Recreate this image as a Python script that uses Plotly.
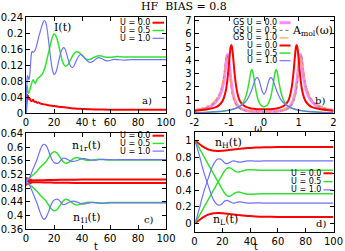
import plotly.graph_objects as go

W, H = 345, 251

# ---------------- panel a : current I(t) ----------------
t_a_red = [0, 0.5, 1, 1.5, 2, 2.5, 3, 4, 5, 6, 7, 8, 9, 10, 12, 15, 20, 25, 30, 35, 40, 45, 50, 60, 70, 80, 90, 100]
I_red = [0, 0.03, 0.046, 0.042, 0.036, 0.038, 0.034, 0.03, 0.034, 0.029, 0.029, 0.026, 0.027, 0.025, 0.023, 0.021,
         0.018, 0.016, 0.014, 0.012, 0.011, 0.01, 0.0095, 0.009, 0.009, 0.009, 0.009, 0.009]

t_a_g = [0, 0.5, 1, 1.5, 2, 3, 4, 5, 6, 6.5, 7, 8, 10, 12, 14, 16, 18, 19, 20, 21, 22, 24, 26, 28, 30, 32, 34, 36,
         38, 40, 42, 44, 46, 48, 50, 52, 54, 56, 60, 65, 70, 80, 90, 100]
I_g = [0, 0.07, 0.062, 0.052, 0.05, 0.062, 0.075, 0.084, 0.078, 0.075, 0.077, 0.085, 0.092, 0.1, 0.12, 0.15, 0.18,
       0.192, 0.198, 0.196, 0.188, 0.16, 0.13, 0.118, 0.122, 0.135, 0.148, 0.154, 0.152, 0.145, 0.138, 0.134, 0.135,
       0.139, 0.142, 0.144, 0.143, 0.141, 0.14, 0.142, 0.141, 0.141, 0.141, 0.141]

t_a_b = [0, 0.5, 1, 1.5, 2, 2.5, 3, 3.5, 4, 4.5, 5, 6, 7, 8, 9, 10, 11, 12, 13, 14, 15, 16, 17, 18, 19, 20, 21, 22,
         23, 24, 25, 26, 27, 28, 29, 30, 31, 32, 33, 34, 35, 36, 37, 38, 39, 40, 42, 44, 46, 48, 50, 52, 54, 56, 58,
         60, 63, 66, 70, 75, 80, 90, 100]
I_b = [0, 0.06, 0.095, 0.09, 0.084, 0.09, 0.11, 0.135, 0.152, 0.155, 0.153, 0.155, 0.162, 0.175, 0.19, 0.202, 0.215,
       0.226, 0.232, 0.228, 0.212, 0.185, 0.155, 0.127, 0.106, 0.097, 0.1, 0.11, 0.125, 0.14, 0.153, 0.161, 0.164,
       0.16, 0.149, 0.136, 0.125, 0.117, 0.114, 0.117, 0.124, 0.132, 0.139, 0.144, 0.147, 0.146, 0.138, 0.13, 0.127,
       0.13, 0.136, 0.139, 0.137, 0.133, 0.131, 0.132, 0.135, 0.134, 0.133, 0.134, 0.134, 0.134, 0.134]

# ---------------- panel b : spectral functions ----------------
w_red = [-2.0, -1.8, -1.6, -1.4, -1.3, -1.2, -1.15, -1.1, -1.06, -1.02, -0.99, -0.96, -0.94, -0.92, -0.89, -0.86,
         -0.82, -0.78, -0.74, -0.7, -0.6, -0.5, -0.4, -0.3, -0.2, -0.1, 0.0, 0.1, 0.2, 0.3, 0.4, 0.5, 0.6, 0.7, 0.74,
         0.78, 0.82, 0.86, 0.89, 0.92, 0.94, 0.96, 0.99, 1.02, 1.06, 1.1, 1.15, 1.2, 1.3, 1.4, 1.6, 1.8, 2.0]
A_red = [0.2, 0.25, 0.32, 0.45, 0.6, 0.9, 1.2, 1.7, 2.4, 3.4, 4.3, 5.0, 5.15, 5.0, 4.3, 3.4, 2.4, 1.7, 1.25, 0.95,
         0.62, 0.46, 0.38, 0.34, 0.31, 0.3, 0.3, 0.3, 0.31, 0.34, 0.38, 0.46, 0.62, 0.95, 1.25, 1.7, 2.4, 3.4, 4.3,
         5.0, 5.15, 5.0, 4.3, 3.4, 2.4, 1.7, 1.2, 0.9, 0.6, 0.45, 0.32, 0.25, 0.2]

w_g = [-2.0, -1.6, -1.3, -1.1, -0.9, -0.75, -0.65, -0.58, -0.52, -0.47, -0.43, -0.4, -0.37, -0.35, -0.33, -0.3, -0.27,
       -0.23, -0.19, -0.15, -0.1, -0.05, 0.0, 0.05, 0.1, 0.15, 0.19, 0.23, 0.27, 0.3, 0.33, 0.35, 0.37, 0.4, 0.43,
       0.47, 0.52, 0.58, 0.65, 0.75, 0.9, 1.1, 1.3, 1.6, 2.0]
A_g = [0.05, 0.08, 0.13, 0.19, 0.3, 0.45, 0.65, 0.9, 1.3, 1.8, 2.35, 2.85, 3.2, 3.3, 3.2, 2.85, 2.3, 1.7, 1.2, 0.88,
       0.65, 0.54, 0.5, 0.54, 0.65, 0.88, 1.2, 1.7, 2.3, 2.85, 3.2, 3.3, 3.2, 2.85, 2.35, 1.8, 1.3, 0.9, 0.65, 0.45,
       0.3, 0.19, 0.13, 0.08, 0.05]

w_b = [-2.0, -1.6, -1.3, -1.1, -0.9, -0.75, -0.6, -0.5, -0.42, -0.35, -0.3, -0.25, -0.21, -0.19, -0.17, -0.13, -0.09,
       -0.05, 0.0, 0.05, 0.09, 0.13, 0.17, 0.19, 0.21, 0.25, 0.3, 0.35, 0.42, 0.5, 0.6, 0.75, 0.9, 1.1, 1.3, 1.6, 2.0]
A_b = [0.05, 0.08, 0.13, 0.19, 0.3, 0.45, 0.7, 0.98, 1.35, 1.8, 2.2, 2.55, 2.68, 2.7, 2.66, 2.4, 2.0, 1.65, 1.45,
       1.65, 2.0, 2.4, 2.66, 2.7, 2.68, 2.55, 2.2, 1.8, 1.35, 0.98, 0.7, 0.45, 0.3, 0.19, 0.13, 0.08, 0.05]

w_gs0 = [-2.0, -1.8, -1.6, -1.45, -1.32, -1.22, -1.16, -1.12, -1.09, -1.07, -1.05, -1.03, -1.01, -0.98, -0.94, -0.9,
         -0.85, -0.78, -0.7, -0.6, -0.45, -0.3, -0.15, 0.0, 0.15, 0.3, 0.45, 0.6, 0.7, 0.78, 0.85, 0.9, 0.94, 0.98,
         1.01, 1.03, 1.05, 1.07, 1.09, 1.12, 1.16, 1.22, 1.32, 1.45, 1.6, 1.8, 2.0]
A_gs0 = [0.22, 0.3, 0.45, 0.7, 1.1, 1.7, 2.4, 3.1, 3.8, 4.25, 4.45, 4.3, 3.9, 3.2, 2.3, 1.6, 1.05, 0.65, 0.42, 0.28,
         0.18, 0.13, 0.11, 0.1, 0.11, 0.13, 0.18, 0.28, 0.42, 0.65, 1.05, 1.6, 2.3, 3.2, 3.9, 4.3, 4.45, 4.25, 3.8,
         3.1, 2.4, 1.7, 1.1, 0.7, 0.45, 0.3, 0.22]

w_gs5 = [-2.0, -1.8, -1.6, -1.45, -1.34, -1.24, -1.18, -1.14, -1.11, -1.09, -1.07, -1.05, -1.03, -1.0, -0.96, -0.92,
         -0.87, -0.8, -0.72, -0.62, -0.47, -0.3, -0.15, 0.0, 0.15, 0.3, 0.47, 0.62, 0.72, 0.8, 0.87, 0.92, 0.96, 1.0,
         1.03, 1.05, 1.07, 1.09, 1.11, 1.14, 1.18, 1.24, 1.34, 1.45, 1.6, 1.8, 2.0]
A_gs5 = [0.24, 0.33, 0.5, 0.75, 1.15, 1.75, 2.45, 3.15, 3.8, 4.2, 4.4, 4.25, 3.85, 3.15, 2.3, 1.6, 1.05, 0.65, 0.42,
         0.28, 0.18, 0.13, 0.11, 0.1, 0.11, 0.13, 0.18, 0.28, 0.42, 0.65, 1.05, 1.6, 2.3, 3.15, 3.85, 4.25, 4.4, 4.2,
         3.8, 3.15, 2.45, 1.75, 1.15, 0.75, 0.5, 0.33, 0.24]

w_gs10 = [-2.0, -1.8, -1.6, -1.5, -1.4, -1.3, -1.22, -1.16, -1.12, -1.09, -1.07, -1.05, -1.02, -0.98, -0.94, -0.88,
          -0.8, -0.7, -0.6, -0.45, -0.3, -0.15, 0.0, 0.15, 0.3, 0.45, 0.6, 0.7, 0.8, 0.88, 0.94, 0.98, 1.02, 1.05,
          1.07, 1.09, 1.12, 1.16, 1.22, 1.3, 1.4, 1.5, 1.6, 1.8, 2.0]
A_gs10 = [0.25, 0.38, 0.58, 0.75, 1.0, 1.4, 2.0, 2.8, 3.5, 4.0, 4.2, 4.1, 3.6, 2.8, 2.0, 1.3, 0.8, 0.48, 0.3, 0.2,
          0.14, 0.12, 0.11, 0.12, 0.14, 0.2, 0.3, 0.48, 0.8, 1.3, 2.0, 2.8, 3.6, 4.1, 4.2, 4.0, 3.5, 2.8, 2.0, 1.4,
          1.0, 0.75, 0.58, 0.38, 0.25]

# ---------------- panel c : n_1r(t), n_1l(t) ----------------
t_c_r = [0, 0.5, 1, 1.5, 2, 2.5, 3, 3.5, 4, 5, 6, 8, 10, 15, 20, 30, 40, 60, 80, 100]
n1r_r = [0.5, 0.51, 0.496, 0.508, 0.498, 0.506, 0.5, 0.505, 0.502, 0.503, 0.5025, 0.503, 0.503, 0.5035, 0.504,
         0.5045, 0.505, 0.505, 0.505, 0.505]
n1l_r = [0.5, 0.49, 0.504, 0.492, 0.502, 0.494, 0.5, 0.495, 0.498, 0.497, 0.4975, 0.497, 0.497, 0.4965, 0.496,
         0.4955, 0.495, 0.495, 0.495, 0.495]

t_c_g = [0, 2, 4, 6, 8, 10, 12, 14, 16, 18, 20, 22, 24, 26, 28, 30, 32, 34, 36, 38, 40, 44, 48, 52, 56, 60, 70, 80,
         90, 100]
n1r_g = [0.5, 0.508, 0.515, 0.522, 0.53, 0.54, 0.548, 0.556, 0.568, 0.58, 0.586, 0.583, 0.572, 0.56, 0.553, 0.554,
         0.56, 0.566, 0.569, 0.568, 0.565, 0.561, 0.562, 0.564, 0.563, 0.562, 0.562, 0.562, 0.562, 0.562]
n1l_g = [0.5, 0.492, 0.485, 0.478, 0.47, 0.46, 0.452, 0.444, 0.432, 0.42, 0.414, 0.417, 0.428, 0.44, 0.447, 0.446,
         0.44, 0.434, 0.431, 0.432, 0.435, 0.439, 0.438, 0.436, 0.437, 0.438, 0.438, 0.438, 0.438, 0.438]

t_c_b = [0, 1, 2, 3, 4, 5, 6, 7, 8, 9, 10, 11, 12, 13, 14, 15, 16, 17, 18, 19, 20, 21, 22, 23, 24, 25, 26, 27, 28,
         30, 32, 34, 36, 38, 40, 42, 44, 46, 50, 55, 60, 70, 80, 90, 100]
n1r_b = [0.5, 0.51, 0.505, 0.515, 0.525, 0.535, 0.545, 0.555, 0.565, 0.578, 0.59, 0.6, 0.606, 0.608, 0.606, 0.6,
         0.59, 0.578, 0.568, 0.56, 0.555, 0.553, 0.552, 0.553, 0.557, 0.562, 0.566, 0.568, 0.567, 0.563, 0.559,
         0.558, 0.56, 0.563, 0.566, 0.566, 0.564, 0.562, 0.562, 0.564, 0.563, 0.563, 0.563, 0.563, 0.563]
n1l_b = [0.5, 0.49, 0.495, 0.485, 0.475, 0.465, 0.455, 0.445, 0.435, 0.422, 0.41, 0.4, 0.392, 0.389, 0.392, 0.4,
         0.41, 0.422, 0.432, 0.44, 0.445, 0.447, 0.448, 0.447, 0.443, 0.438, 0.434, 0.432, 0.433, 0.437, 0.441,
         0.442, 0.44, 0.437, 0.434, 0.434, 0.436, 0.438, 0.438, 0.436, 0.437, 0.437, 0.437, 0.437, 0.437]

# ---------------- panel d : n_H(t), n_L(t) ----------------
t_d = [0, 1, 2, 3, 4, 5, 6, 7, 8, 9, 10, 11, 12, 13, 14, 15, 16, 17, 18, 19, 20, 21, 22, 23, 24, 25, 26, 27, 28, 29,
       30, 32, 34, 36, 38, 40, 44, 50, 60, 70, 80, 90, 100]
nH_r = [1.0, 0.99, 0.978, 0.965, 0.952, 0.94, 0.928, 0.918, 0.908, 0.9, 0.893, 0.888, 0.884, 0.88, 0.878, 0.876,
        0.875, 0.875, 0.875, 0.876, 0.877, 0.878, 0.88, 0.882, 0.884, 0.886, 0.888, 0.89, 0.892, 0.894, 0.896, 0.9,
        0.903, 0.906, 0.909, 0.911, 0.915, 0.919, 0.922, 0.923, 0.923, 0.923, 0.923]
nL_r = [0.0, 0.01, 0.022, 0.035, 0.048, 0.06, 0.072, 0.082, 0.092, 0.1, 0.107, 0.112, 0.116, 0.12, 0.122, 0.124,
        0.125, 0.125, 0.125, 0.124, 0.123, 0.122, 0.12, 0.118, 0.116, 0.114, 0.112, 0.11, 0.108, 0.106, 0.104, 0.1,
        0.097, 0.094, 0.091, 0.089, 0.085, 0.081, 0.078, 0.077, 0.077, 0.077, 0.077]
nH_g = [1.0, 0.975, 0.948, 0.92, 0.89, 0.86, 0.83, 0.8, 0.77, 0.74, 0.71, 0.68, 0.65, 0.62, 0.59, 0.56, 0.53, 0.5,
        0.47, 0.44, 0.41, 0.382, 0.358, 0.34, 0.33, 0.328, 0.333, 0.343, 0.356, 0.367, 0.375, 0.378, 0.37, 0.36,
        0.353, 0.351, 0.355, 0.358, 0.357, 0.357, 0.357, 0.357, 0.357]
nL_g = [0.0, 0.025, 0.052, 0.08, 0.11, 0.14, 0.17, 0.2, 0.23, 0.26, 0.29, 0.32, 0.35, 0.38, 0.41, 0.44, 0.47, 0.5,
        0.53, 0.56, 0.59, 0.618, 0.642, 0.66, 0.67, 0.672, 0.667, 0.657, 0.644, 0.633, 0.625, 0.622, 0.63, 0.64,
        0.647, 0.649, 0.645, 0.642, 0.643, 0.643, 0.643, 0.643, 0.643]
nH_b = [1.0, 0.96, 0.91, 0.85, 0.79, 0.72, 0.66, 0.6, 0.55, 0.5, 0.45, 0.4, 0.35, 0.31, 0.275, 0.25, 0.232, 0.222,
        0.22, 0.226, 0.24, 0.258, 0.272, 0.278, 0.276, 0.268, 0.258, 0.25, 0.246, 0.247, 0.252, 0.26, 0.258, 0.25,
        0.245, 0.244, 0.248, 0.246, 0.245, 0.245, 0.245, 0.245, 0.245]
nL_b = [0.0, 0.04, 0.09, 0.15, 0.21, 0.28, 0.34, 0.4, 0.45, 0.5, 0.55, 0.6, 0.65, 0.69, 0.725, 0.75, 0.768, 0.778,
        0.78, 0.774, 0.76, 0.742, 0.728, 0.722, 0.724, 0.732, 0.742, 0.75, 0.754, 0.753, 0.748, 0.74, 0.742, 0.75,
        0.755, 0.756, 0.752, 0.754, 0.755, 0.755, 0.755, 0.755, 0.755]

# tick labels
ticks_a_y = [0, 0.04, 0.08, 0.12, 0.16, 0.2, 0.24]
ticks_a_y_txt = ["0", "0.04", "0.08", "0.12", "0.16", "0.2", "0.24"]
ticks_t = [0, 20, 40, 60, 80, 100]
ticks_t_txt = ["0", "20", "40", "60", "80", "100"]
ticks_b_x = [-2, -1, 0, 1, 2]
ticks_b_x_txt = ["-2", "-1", "0", "1", "2"]
ticks_b_y = [0, 1, 2, 3, 4, 5, 6, 7]
ticks_b_y_txt = ["0", "1", "2", "3", "4", "5", "6", "7"]
ticks_c_y = [0.36, 0.4, 0.44, 0.48, 0.52, 0.56, 0.6, 0.64]
ticks_c_y_txt = ["0.36", "0.4", "0.44", "0.48", "0.52", "0.56", "0.6", "0.64"]
ticks_d_y = [0, 0.2, 0.4, 0.6, 0.8, 1]
ticks_d_y_txt = ["0", "0.2", "0.4", "0.6", "0.8", "1"]

legend_U = ["U = 0.0", "U = 0.5", "U = 1.0"]
legend_GS = ["GS U = 0.0", "GS U = 0.5", "GS U = 1.0"]

RED = "#ff0000"
GREEN = "#33e033"
BLUE = "#7070ff"
MAG = "#ff88ff"
GRAY = "#8a8a8a"
ORANGE = "#ffa060"

fig = go.Figure()


def add(x, y, color, width, xa, ya, dash="solid", shape="spline"):
    fig.add_trace(go.Scatter(x=x, y=y, mode="lines",
                             line=dict(color=color, width=width, dash=dash, shape=shape, smoothing=0.7),
                             xaxis=xa, yaxis=ya, showlegend=False, hoverinfo="skip"))


# panel a
add(t_a_red, I_red, RED, 2, "x", "y")
add(t_a_g, I_g, GREEN, 1.5, "x", "y")
add(t_a_b, I_b, BLUE, 1.2, "x", "y")
# panel b
add(w_gs0, A_gs0, MAG, 3, "x2", "y2")
add(w_gs5, A_gs5, GRAY, 1.2, "x2", "y2", dash="dot")
add(w_gs10, A_gs10, ORANGE, 1.2, "x2", "y2", dash="dashdot")
add(w_red, A_red, RED, 2, "x2", "y2")
add(w_g, A_g, GREEN, 1.5, "x2", "y2")
add(w_b, A_b, BLUE, 1.2, "x2", "y2")
# panel c
add(t_c_r, n1r_r, RED, 2, "x3", "y3")
add(t_c_r, n1l_r, RED, 2, "x3", "y3")
add(t_c_g, n1r_g, GREEN, 1.5, "x3", "y3")
add(t_c_g, n1l_g, GREEN, 1.5, "x3", "y3")
add(t_c_b, n1r_b, BLUE, 1.2, "x3", "y3")
add(t_c_b, n1l_b, BLUE, 1.2, "x3", "y3")
# panel d
add(t_d, nH_r, RED, 2, "x4", "y4")
add(t_d, nL_r, RED, 2, "x4", "y4")
add(t_d, nH_g, GREEN, 1.5, "x4", "y4")
add(t_d, nL_g, GREEN, 1.5, "x4", "y4")
add(t_d, nH_b, BLUE, 1.2, "x4", "y4")
add(t_d, nL_b, BLUE, 1.2, "x4", "y4")


def px(x):
    return x / W


def py(y):
    return 1 - y / H


SANS = "DejaVu Sans"
SERIF = "DejaVu Serif"


def axis(l, r, rng, tv, tt, anchor, vertical=False):
    if vertical:
        dom = [py(r), py(l)]
    else:
        dom = [px(l), px(r)]
    return dict(domain=dom, range=rng, tickvals=tv, ticktext=tt, anchor=anchor,
                ticks="inside", ticklen=4, tickwidth=1, tickcolor="black",
                showline=True, linecolor="black", linewidth=1, mirror="ticks",
                showgrid=False, zeroline=False, fixedrange=True,
                tickfont=dict(family=SANS, size=10, color="black"))


# plot area boxes (pixels)
AX_L, AX_R = 26, 166
BX_L, BX_R = 194.5, 333.5
TOP_T, TOP_B = 17.3, 113.3
C_T, C_B = 133.3, 229.3
D_T, D_B = 132.3, 231.7

layout = dict(
    width=W, height=H, margin=dict(l=0, r=0, t=0, b=0, autoexpand=False),
    paper_bgcolor="white", plot_bgcolor="white", showlegend=False,
    xaxis=axis(AX_L, AX_R, [0, 100], ticks_t, ticks_t_txt, "y"),
    yaxis=axis(TOP_T, TOP_B, [0, 0.24], ticks_a_y, ticks_a_y_txt, "x", vertical=True),
    xaxis2=axis(BX_L, BX_R, [-2, 2], ticks_b_x, ticks_b_x_txt, "y2"),
    yaxis2=axis(TOP_T, TOP_B, [0, 7.25], ticks_b_y, ticks_b_y_txt, "x2", vertical=True),
    xaxis3=axis(AX_L, AX_R, [0, 100], ticks_t, ticks_t_txt, "y3"),
    yaxis3=axis(C_T, C_B, [0.36, 0.64], ticks_c_y, ticks_c_y_txt, "x3", vertical=True),
    xaxis4=axis(BX_L, BX_R, [0, 100], ticks_t, ticks_t_txt, "y4"),
    yaxis4=axis(D_T, D_B, [-0.1, 1.1], ticks_d_y, ticks_d_y_txt, "x4", vertical=True),
)
fig.update_layout(**layout)

ann = []
shapes = []


def text(x, y, s, size=10, family=SERIF, xanchor="center"):
    ann.append(dict(x=px(x), y=py(y), xref="paper", yref="paper", text=s, showarrow=False,
                    xanchor=xanchor, yanchor="middle", borderpad=0,
                    font=dict(family=family, size=size, color="black")))


def legend(xr, x0, x1, y0, dy, labels, styles):
    for i, (lab, st) in enumerate(zip(labels, styles)):
        y = y0 + i * dy
        text(xr, y, lab, size=8, family=SANS, xanchor="right")
        col, wd, ds = st
        shapes.append(dict(type="line", xref="paper", yref="paper", x0=px(x0), x1=px(x1), y0=py(y), y1=py(y),
                           line=dict(color=col, width=wd, dash=ds)))


U_styles = [(RED, 2, "solid"), (GREEN, 1.5, "solid"), (BLUE, 1.2, "solid")]
GS_styles = [(MAG, 3, "solid"), (GRAY, 1.2, "dot"), (ORANGE, 1.2, "dashdot")]

legend(151, 152.5, 164, 22.7, 7.8, legend_U, U_styles)
legend(277.5, 279.5, 290.5, 22.7, 7.6, legend_GS + legend_U, GS_styles + U_styles)
legend(150.7, 152.5, 164, 135.7, 7.7, legend_U, U_styles)
legend(321.5, 323.5, 332.5, 173.3, 8.3, legend_U, U_styles)

text(184, 7, "HF  BIAS = 0.8", size=11)
text(62, 27.3, "I(t)", size=11)
text(147, 100, "a)", size=10)
text(312, 31, "A<sub>mol</sub>(ω)", size=11)
text(320, 100, "b)", size=10)
text(86.5, 146, "n<sub>1r</sub>(t)", size=11)
text(86, 217.7, "n<sub>1l</sub>(t)", size=11)
text(149, 219, "c)", size=10)
text(228, 143.3, "n<sub>H</sub>(t)", size=11)
text(226, 220, "n<sub>L</sub>(t)", size=11)
text(321, 223.3, "d)", size=10)
text(94, 122, "t", size=10, family=SANS)
text(258, 128, "ω", size=10, family=SANS)
text(96, 246, "t", size=10, family=SANS)
text(256, 246, "t", size=10, family=SANS)

fig.update_layout(annotations=ann, shapes=shapes)
fig.write_html("out.html", config={"displayModeBar": False},
               post_script="document.body.style.margin='0';document.body.style.overflow='hidden';")
